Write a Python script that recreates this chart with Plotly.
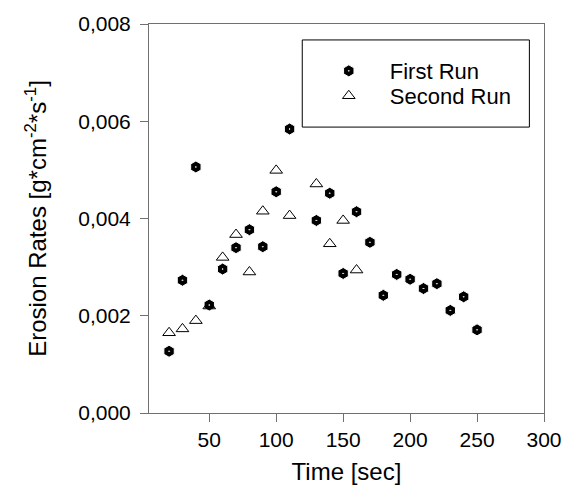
import plotly.graph_objects as go

time_first = [20, 30, 40, 50, 60, 70, 80, 90, 100, 110, 130, 140, 150, 160, 170,
              180, 190, 200, 210, 220, 230, 240, 250]
rate_first = [0.00127, 0.00273, 0.00506, 0.00222, 0.00296, 0.00340, 0.00377, 0.00342,
              0.00455, 0.00584, 0.00396, 0.00452, 0.00287, 0.00414, 0.00351,
              0.00242, 0.00285, 0.00275, 0.00256, 0.00266, 0.00211, 0.00239, 0.00171]

time_second = [20, 30, 40, 50, 60, 70, 80, 90, 100, 110, 130, 140, 150, 160]
rate_second = [0.00165, 0.00173, 0.00190, 0.00220, 0.00320, 0.00367, 0.00290, 0.00415,
               0.00499, 0.00406, 0.00471, 0.00348, 0.00396, 0.00294]

x_ticks = [50, 100, 150, 200, 250, 300]
y_ticks = [0.000, 0.002, 0.004, 0.006, 0.008]
y_tick_text = ["0,000", "0,002", "0,004", "0,006", "0,008"]

FONT = "Liberation Sans, Arial, sans-serif"

fig = go.Figure()
fig.add_trace(go.Scatter(
    x=time_first, y=rate_first, mode="markers", name="First Run", legend="legend",
    marker=dict(symbol="hexagon-dot", size=12, color="black",
                line=dict(color="white", width=1)),
))
fig.add_trace(go.Scatter(
    x=time_second, y=rate_second, mode="markers", name="Second Run", legend="legend2",
    marker=dict(symbol="triangle-up-open", size=11, color="black",
                line=dict(color="black", width=1)),
))

axis_common = dict(
    showline=True, linecolor="#707070", linewidth=1, mirror=True,
    ticks="outside", ticklen=8, tickcolor="#707070", tickwidth=1,
    showgrid=False, zeroline=False,
    tickfont=dict(family=FONT, size=21, color="black"),
)

fig.update_xaxes(
    range=[5, 300], tickvals=x_ticks,
    title=dict(text="Time [sec]", font=dict(family=FONT, size=24, color="black"), standoff=12),
    **axis_common,
)
fig.update_yaxes(
    range=[0, 0.008], tickvals=y_ticks, ticktext=y_tick_text, ticklabelstandoff=5,
    title=dict(text="Erosion Rates [g*cm<sup>-2</sup>*s<sup>-1</sup>]",
               font=dict(family=FONT, size=24, color="black"), standoff=24),
    **axis_common,
)

fig.add_shape(type="rect", xref="paper", yref="paper",
              x0=0.388, x1=0.963, y0=0.735, y1=0.959,
              line=dict(color="black", width=1), fillcolor="rgba(0,0,0,0)")

legend_common = dict(xanchor="left", yanchor="middle",
                     bgcolor="rgba(0,0,0,0)", borderwidth=0,
                     font=dict(family=FONT, size=22, color="black"),
                     itemwidth=72)

fig.update_layout(
    width=574, height=495,
    margin=dict(l=149, r=18, t=24, b=82),
    paper_bgcolor="white", plot_bgcolor="white",
    showlegend=True,
    legend=dict(x=0.402, y=0.879, **legend_common),
    legend2=dict(x=0.402, y=0.815, **legend_common),
    font=dict(family=FONT),
)

fig.write_html("out.html")
